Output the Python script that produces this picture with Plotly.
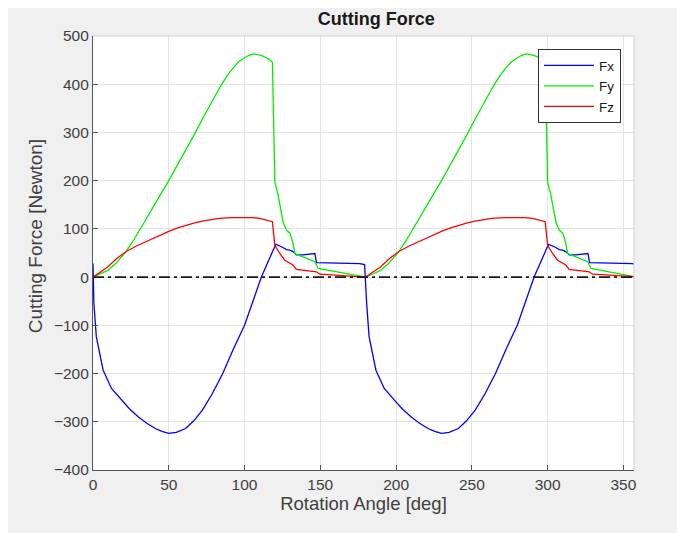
import plotly.graph_objects as go

# Rotation angle [deg] and cutting force [N]
fx_angle = [0, 0.6, 2.2, 6.7, 12.2, 18.9, 24, 30, 35.5, 41.1, 45.5, 50, 55, 61.1, 66.5, 72.2, 78.5,
            85.6, 92.5, 100, 105.5, 111.1,
            118.9, 120.8, 124.4, 127.7, 129.9, 132, 134.2, 138.6, 146.4, 147.5, 176, 178.2, 179.2,
            180.6, 182.2, 186.7, 192.2, 198.9, 204, 210, 215.5, 221.1, 225.5, 230, 235, 241.1, 246.5,
            252.2, 258.5, 265.6, 272.5, 280, 285.5,
            291.1, 298.9, 300.6, 304.4, 307.7, 309.9, 312, 314.2, 318.6, 326.6, 327.7, 356, 357]
fx_force = [28, -55, -124, -193, -231, -255, -273, -290, -303, -314, -320, -324, -322, -314, -298,
            -276, -243, -200, -150, -100, -52, 0,
            56, 68, 63, 57, 56, 53, 46, 46, 49, 30, 28, 27, 26,
            -55, -124, -193, -231, -255, -273, -290, -303, -314, -320, -324, -322, -314, -298,
            -276, -243, -200, -150, -100, -52,
            0, 56, 68, 63, 57, 56, 53, 46, 46, 49, 30, 28, 27]

fy_angle = [0, 5, 9.7, 15, 21.8, 26.7, 32, 38.9, 44.5, 50, 55.5, 61.1, 66.7, 72.2, 77.8, 83.3, 86,
            89, 92.2, 96, 100, 103, 106, 109, 111, 114.4, 116.5, 118.4,
            120, 122, 124, 125.6, 127.8, 130, 132, 133.2, 138.6, 146.4, 148.6, 165, 180,
            185, 189.7, 195, 201.8, 206.7, 212, 218.9, 224.5, 230, 235.5, 241.1, 246.7, 252.2, 257.8,
            263.3, 266, 269, 272.2, 276, 280, 283, 286, 289, 291, 294.4, 296.5, 298.4,
            300, 302, 304, 305.6, 307.8, 310, 312, 313.2, 318.6, 326.4, 328.6, 345, 357]
fy_force = [0, 7, 14, 28, 53, 76, 105, 142, 171, 200, 231, 262, 295, 328, 361, 391, 405,
            420, 433, 446, 455, 460, 463, 462, 460, 455, 451, 445,
            197, 172, 140, 112, 97, 91, 70, 49, 42, 32, 18, 8, 0,
            7, 14, 28, 53, 76, 105, 142, 171, 200, 231, 262, 295, 328, 361,
            391, 405, 420, 433, 446, 455, 460, 463, 462, 460, 455, 451, 445,
            197, 172, 140, 112, 97, 91, 70, 49, 42, 32, 18, 8, 1]

fz_angle = [0, 4.5, 9.7, 15.5, 21.8, 29, 36.7, 43.5, 50.7, 56, 61, 66.5, 72, 77.5, 83.3, 91.5, 100,
            105, 110, 114.5, 118.4, 120, 123.3, 126.6, 132, 134.2, 147.5, 149.7, 178.4, 180,
            184.5, 189.7, 195.5, 201.8, 209, 216.7, 223.5, 230.7, 236, 241, 246.5, 252, 257.5, 263.3,
            271.5, 280, 285, 290, 294.5, 298.4, 300, 303.3, 306.6, 312,
            314.2, 327.5, 329.7, 357]
fz_force = [0, 10, 21, 38, 53, 65, 76, 86, 96, 102, 107, 112, 116, 119, 122, 123.5, 124,
            123.5, 122, 119, 115, 66, 49, 35, 25, 16, 11, 6, 1, 0,
            10, 21, 38, 53, 65, 76, 86, 96, 102, 107, 112, 116, 119, 122,
            123.5, 124, 123.5, 122, 119, 115, 66, 49, 35, 25,
            16, 11, 6, 1]

x_ticks = [0, 50, 100, 150, 200, 250, 300, 350]
y_ticks = [-400, -300, -200, -100, 0, 100, 200, 300, 400, 500]

FONT = "Liberation Sans, Arial, sans-serif"
TXT = "#404040"

fig = go.Figure()
for name, xs, ys, color in (("Fx", fx_angle, fx_force, "#0000ff"),
                            ("Fy", fy_angle, fy_force, "#00ee00"),
                            ("Fz", fz_angle, fz_force, "#ff0000")):
    fig.add_trace(go.Scatter(x=xs, y=ys, mode="lines", name=name,
                             line=dict(color=color, width=1.3)))

fig.add_hline(y=0, line_dash="11px,4px,3px,4px", line_color="#1a1a1a", line_width=1.6)

# light box on top/right edges, like MATLAB's axes box
fig.add_shape(type="line", xref="paper", yref="paper", x0=0, x1=1, y0=1, y1=1,
              line=dict(color="#d0d0d0", width=1))
fig.add_shape(type="line", xref="paper", yref="paper", x0=1, x1=1, y0=0, y1=1,
              line=dict(color="#d0d0d0", width=1))

axis_common = dict(showgrid=True, gridcolor="#e3e3e3", gridwidth=1, zeroline=False,
                   showline=True, linecolor="#555555", linewidth=1.2,
                   ticks="inside", ticklen=5, tickcolor="#555555",
                   tickfont=dict(family=FONT, size=15.5, color=TXT))

fig.update_xaxes(range=[0, 357], tickvals=x_ticks,
                 title=dict(text="Rotation Angle [deg]", standoff=4,
                            font=dict(family=FONT, size=18.5, color=TXT)),
                 **axis_common)
fig.update_yaxes(range=[-400, 500], tickvals=y_ticks, **axis_common)

# y label as annotation (MATLAB places it a bit above centre)
fig.add_annotation(text="Cutting Force [Newton]", xref="paper", yref="paper",
                   x=-0.107, y=0.539, xanchor="center", yanchor="middle",
                   textangle=-90, showarrow=False,
                   font=dict(family=FONT, size=19, color=TXT))

fig.update_layout(
    width=677, height=525,
    margin=dict(l=85, r=51, t=28, b=63),
    paper_bgcolor="#f0f0f0", plot_bgcolor="#ffffff",
    title=dict(text="<b>Cutting Force</b>", x=0.544, xanchor="center",
               y=1 - 11 / 525, yanchor="middle",
               font=dict(family=FONT, size=18, color="#1a1a1a")),
    legend=dict(x=0.976, xanchor="right", y=0.97, yanchor="top",
                bgcolor="#ffffff", bordercolor="#333333", borderwidth=1,
                font=dict(family=FONT, size=13.5, color="#1a1a1a"),
                itemwidth=50, tracegroupgap=0),
    showlegend=True,
)

fig.write_html("out.html")
